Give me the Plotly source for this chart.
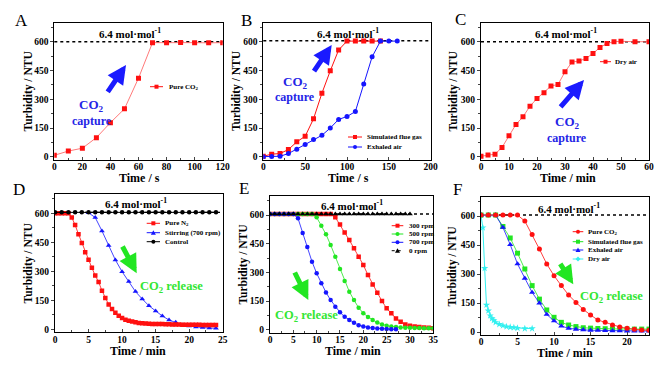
import plotly.graph_objects as go

# page body has an 8px margin: the figure is drawn from (8, 8) of the window
OFF = 8
W, H = 662 - OFF, 376 - OFF
def fx(x): return (x - OFF) / W
def fy(y): return 1 - (y - OFF) / H

# ---------------- DATA ----------------
# A: capture with pure CO2 (time in s)
A_time = [0, 10, 20, 30, 40, 50, 60, 70, 80, 90, 100, 110, 120]
A_pure_co2 = [8, 30, 45, 100, 178, 250, 410, 595, 595, 596, 595, 594, 595]

# B: capture with simulated flue gas / exhaled air (time in s)
B_time_flue = [0, 10, 20, 30, 40, 50, 60, 70, 80, 90, 100, 110, 120, 130, 140]
B_flue = [3, 14, 17, 38, 78, 107, 198, 331, 448, 557, 603, 603, 603, 603, 603]
B_time_exh = [0, 10, 20, 30, 40, 50, 60, 70, 80, 90, 100, 110, 120, 130, 140, 150, 160]
B_exh = [1, 2, 3, 17, 40, 64, 90, 112, 150, 195, 210, 236, 379, 521, 603, 603, 603]

# C: capture with dry air (time in min)
C_time = [0, 2.5, 5, 7.5, 10, 12.5, 15, 17.5, 20, 22.5, 25, 27.5, 30, 32.5, 35,
          37.5, 40, 42.5, 45, 47.5, 50, 55, 60]
C_dry = [3, 9, 14, 49, 110, 169, 209, 264, 304, 334, 369, 377, 443, 494, 499,
         513, 539, 570, 591, 600, 602, 600, 600]

# D: release (time in min)
D_time_n2 = [0, 0.5, 1, 1.5, 2, 2.5, 3, 3.5, 4, 4.5, 5, 5.5, 6, 6.5, 7, 7.5, 8, 8.5,
             9, 9.5, 10, 10.5, 11, 11.5, 12, 12.5, 13, 13.5, 14, 14.5, 15, 15.5,
             16, 16.5, 17, 17.5, 18, 18.5, 19, 19.5, 20, 20.5, 21, 21.5, 22, 22.5,
             23, 23.5, 24]
D_n2 = [600, 600, 600, 600, 600, 578, 540, 492, 447, 398, 360, 318, 278, 245, 200,
        162, 128, 105, 85, 70, 58, 50, 44, 40, 36, 33, 31, 30, 29, 28, 28, 27, 27,
        26, 26, 25, 25, 25, 24, 24, 24, 23, 23, 23, 22, 22, 22, 22, 22]
D_time_stir = [5, 6, 7, 8, 9, 10, 11, 12, 13, 14, 15, 16, 17, 18, 19, 20, 21, 22, 23, 24]
D_stir = [603, 578, 509, 433, 359, 298, 247, 195, 157, 122, 95, 69, 48, 36, 22, 17,
          12, 9, 7, 5]
D_time_ctrl = [0, 1, 2, 3, 4, 5, 6, 7, 8, 9, 10, 11, 12, 13, 14, 15, 16, 17, 18, 19,
               20, 21, 22, 23, 24]
D_ctrl = [605] * 25

# E: release at different stirring speeds (time in min)
E_time_300 = list(range(0, 36))
E_300 = [605] * 14 + [588, 551, 508, 469, 426, 382, 339, 286, 237, 194, 150, 112,
                      86, 59, 42, 28, 21, 17, 14, 12, 10, 8]
E_time_500 = list(range(0, 36))
E_500 = [605] * 10 + [588, 544, 499, 443, 382, 318, 255, 199, 155, 115, 86, 66, 51,
                      38, 28, 21, 17, 14, 12, 11, 10, 9, 9, 8, 8, 8]
E_time_700 = list(range(0, 28))
E_700 = [605] * 6 + [583, 506, 433, 356, 295, 243, 195, 155, 120, 91, 68, 51, 37,
                     24, 17, 12, 9, 7, 5, 4, 3, 3]
E_time_0 = list(range(0, 31))
E_0 = [605] * 31

# F: release for different capture gases (time in min)
F_time = list(range(0, 24))
F_pure = [605, 605, 605, 605, 605, 605, 574, 505, 429, 352, 291, 240, 191, 153, 117,
          88, 62, 50, 36, 26, 19, 14, 10, 9]
F_flue = [605, 605, 605, 546, 486, 408, 326, 240, 170, 114, 76, 50, 36, 28, 22, 20,
          18, 17, 16, 16, 15, 15, 15, 15]
F_exh = [605, 605, 605, 541, 452, 352, 278, 205, 150, 91, 57, 31, 19, 14, 11, 9, 8,
         7, 6, 6, 5, 5, 5, 5]
F_time_dry = [0, 0.25, 0.5, 0.75, 1, 1.25, 1.5, 1.75, 2, 2.5, 3, 3.5, 4, 4.5, 5, 6, 7]
F_dry = [605, 540, 330, 140, 110, 85, 70, 60, 50, 40, 33, 28, 25, 23, 20, 18, 18]

ref_levels = {"A": 600, "B": 605, "C": 600, "D": 605, "E": 605, "F": 605}
y_ticks = [0, 150, 300, 450, 600]

# ---------------- STYLE ----------------
RED, BLUE, GREEN, CYAN, BLACK = "#ff1010", "#1515ff", "#22e622", "#33f0f0", "#000000"
ARROW_BLUE, TEXT_BLUE, TEXT_GREEN = "#1a1aff", "#2424e6", "#33e633"
SERIF = "Liberation Serif"

panels = [
    dict(id="A", n=1, xd=(54.3, 222.7), yd=(22.5, 159.7), xr=[0, 120], dt=20, mdt=10,
         xt="Time / s", xtp=(139, 178), ytp=28.3, letter=(21.7, 20.7), ref=(130, 33)),
    dict(id="B", n=2, xd=(263.3, 430.7), yd=(22.5, 159.7), xr=[0, 200], dt=50, mdt=25,
         xt="Time / s", xtp=(348.3, 178), ytp=236, letter=(246.7, 20), ref=(347.5, 33.3)),
    dict(id="C", n=3, xd=(481, 649), yd=(22.5, 159.7), xr=[0, 60], dt=10, mdt=5,
         xt="Time / min", xtp=(567.5, 178), ytp=453.3, letter=(460, 19.3), ref=(566.3, 33.3)),
    dict(id="D", n=4, xd=(55, 222.7), yd=(194.0, 332.2), xr=[0, 25], dt=5, mdt=2.5,
         xt="Time / min", xtp=(138.3, 350.5), ytp=28.3, letter=(19, 189), ref=(135.8, 203.3)),
    dict(id="E", n=5, xd=(270, 433.3), yd=(195.9, 332.6), xr=[0, 35], dt=5, mdt=2.5,
         xt="Time / min", xtp=(352.5, 351), ytp=243.3, letter=(244, 188.5), ref=(351.7, 205)),
    dict(id="F", n=6, xd=(481, 649), yd=(196.7, 334.9), xr=[0, 23], dt=5, mdt=2.5,
         xt="Time / min", xtp=(565, 353), ytp=452.7, letter=(457, 189.5), ref=(569, 208.3)),
]

fig = go.Figure()
ax_of = {}
annotations, shapes = [], []

for p in panels:
    n = p["n"]
    xs = "" if n == 1 else str(n)
    ax_of[p["id"]] = ("x" + xs, "y" + xs)
    tickfont = dict(family=SERIF, size=9.5, color="black", weight="bold")
    fig.layout["xaxis" + xs] = dict(
        domain=[fx(p["xd"][0]), fx(p["xd"][1])], range=p["xr"], anchor="y" + xs,
        dtick=p["dt"], tick0=0, ticks="inside", ticklen=3, tickwidth=1,
        minor=dict(dtick=p["mdt"], ticks="inside", ticklen=2, tickwidth=1),
        ticklabelstandoff=-2,
        showline=True, linecolor="black", linewidth=1, mirror=True,
        showgrid=False, zeroline=False, tickfont=tickfont, automargin=False)
    fig.layout["yaxis" + xs] = dict(
        domain=[fy(p["yd"][1]), fy(p["yd"][0])], range=[-15, 700], anchor="x" + xs,
        tickvals=y_ticks, ticks="outside", ticklen=3, tickwidth=1,
        minor=dict(dtick=75, ticks="outside", ticklen=2, tickwidth=1),
        showline=True, linecolor="black", linewidth=1, mirror=True,
        showgrid=False, zeroline=False, tickfont=tickfont, automargin=False)
    # dotted saturation line
    shapes.append(dict(type="line", xref="x" + xs + " domain", yref="y" + xs,
                       x0=0, x1=1, y0=ref_levels[p["id"]], y1=ref_levels[p["id"]],
                       line=dict(color="black", width=1.4, dash="dot"), layer="below"))
    annotations += [
        dict(text="<b>6.4 mol·mol<sup>-1</sup></b>", x=fx(p["ref"][0]), y=fy(p["ref"][1]),
             font=dict(family=SERIF, size=11, color="black")),
        dict(text=p["id"], x=fx(p["letter"][0]), y=fy(p["letter"][1]),
             font=dict(family=SERIF, size=17, color="black")),
        dict(text="<b>" + p["xt"] + "</b>", x=fx(p["xtp"][0]), y=fy(p["xtp"][1]),
             font=dict(family=SERIF, size=12, color="black")),
        dict(text="<b>Turbidity / NTU</b>", x=fx(p["ytp"]),
             y=fy((p["yd"][0] + p["yd"][1]) / 2), textangle=-90,
             font=dict(family=SERIF, size=11.5, color="black")),
    ]

def add(pid, x, y, color, symbol, size=4.5, lw=1.0, dash="solid", lcolor=None):
    xa, ya = ax_of[pid]
    fig.add_trace(go.Scatter(
        x=x, y=y, xaxis=xa, yaxis=ya, mode="lines+markers", showlegend=False,
        line=dict(color=lcolor or color, width=lw, dash=dash),
        marker=dict(color=color, symbol=symbol, size=size, line=dict(width=0))))

add("A", A_time, A_pure_co2, RED, "square", size=5, lcolor="#ff6a6a", lw=0.9)
add("B", B_time_flue, B_flue, RED, "square", size=5)
add("B", B_time_exh, B_exh, BLUE, "circle", size=5)
add("C", C_time, C_dry, RED, "square", size=5, lcolor="#ff6a6a", lw=0.9)
add("D", D_time_stir, D_stir, BLUE, "triangle-up", size=5, lw=0.8)
add("D", D_time_n2, D_n2, RED, "square", size=4.5, lw=0.8)
add("D", D_time_ctrl, D_ctrl, BLACK, "circle", size=4.5, lw=1.0)
add("E", E_time_300, E_300, RED, "square", size=4.5, lw=0.8)
add("E", E_time_500, E_500, GREEN, "circle", size=4.5, lw=0.8)
add("E", E_time_700, E_700, BLUE, "circle", size=4.5, lw=0.8)
add("E", E_time_0, E_0, BLACK, "triangle-up", size=5, lw=0.8, dash="dash")
add("F", F_time_dry, F_dry, CYAN, "star", size=5.5, lw=1.0)
add("F", F_time, F_flue, GREEN, "square", size=5, lw=0.8)
add("F", F_time, F_exh, BLUE, "triangle-up", size=5.5, lw=0.8)
add("F", F_time, F_pure, RED, "circle", size=5, lw=0.8)

# ---------------- legends (drawn as keys + text) ----------------
def marker_shape(sym, cx, cy, color, r=2.0):
    if sym == "square":
        return dict(type="rect", xref="paper", yref="paper", x0=fx(cx - r), x1=fx(cx + r),
                    y0=fy(cy + r), y1=fy(cy - r), fillcolor=color, line=dict(width=0))
    if sym == "circle":
        return dict(type="circle", xref="paper", yref="paper", x0=fx(cx - r), x1=fx(cx + r),
                    y0=fy(cy + r), y1=fy(cy - r), fillcolor=color, line=dict(width=0))
    if sym == "triangle":
        path = "M {} {} L {} {} L {} {} Z".format(fx(cx - 2.5), fy(cy + 2), fx(cx + 2.5),
                                                  fy(cy + 2), fx(cx), fy(cy - 2.5))
        return dict(type="path", xref="paper", yref="paper", path=path,
                    fillcolor=color, line=dict(width=0))
    path = "M {} {} L {} {} L {} {} L {} {} Z".format(fx(cx - 2.5), fy(cy), fx(cx), fy(cy - 2.5),
                                                      fx(cx + 2.5), fy(cy), fx(cx), fy(cy + 2.5))
    return dict(type="path", xref="paper", yref="paper", path=path,
                fillcolor=color, line=dict(width=0))

legends = [
    (150, 163, 167, [86.7], [("Pure CO<sub>2</sub>", RED, "square", "solid")]),
    (348, 362, 364.5, [137, 147], [("Simulated flue gas", RED, "square", "solid"),
                                   ("Exhaled air", BLUE, "circle", "solid")]),
    (600, 611, 613, [61.7], [("Dry air", RED, "square", "solid")]),
    (146.7, 160, 163.3, [223.3, 232.7, 241.7], [("Pure N<sub>2</sub>", RED, "square", "solid"),
                                                ("Stirring (700 rpm)", BLUE, "triangle", "solid"),
                                                ("Control", BLACK, "circle", "solid")]),
    (391.7, 403.3, 406.7, [225.7, 234, 242.3, 250.7], [("300 rpm", RED, "square", "solid"),
                                                       ("500 rpm", GREEN, "circle", "solid"),
                                                       ("700 rpm", BLUE, "circle", "solid"),
                                                       ("0 rpm", BLACK, "triangle", "dash")]),
    (572.7, 583.3, 586, [231.7, 241.7, 250, 259], [("Pure CO<sub>2</sub>", RED, "circle", "solid"),
                                                   ("Simulated flue gas", GREEN, "square", "solid"),
                                                   ("Exhaled air", BLUE, "triangle", "solid"),
                                                   ("Dry air", CYAN, "diamond", "solid")]),
]
for x0, x1, tx, ys, items in legends:
    for yy, (label, col, sym, dash) in zip(ys, items):
        shapes.append(dict(type="line", xref="paper", yref="paper", x0=fx(x0), x1=fx(x1),
                           y0=fy(yy), y1=fy(yy), line=dict(color=col, width=1, dash="dot" if dash == "dash" else "solid")))
        shapes.append(marker_shape(sym, (x0 + x1) / 2, yy, col))
        annotations.append(dict(text="<b>" + label + "</b>", x=fx(tx), y=fy(yy), xanchor="left",
                                font=dict(family=SERIF, size=7, color="black")))

# ---------------- arrows and captions ----------------
arrows = [((126, 65), (106.7, 93.3), ARROW_BLUE), ((331.7, 45), (313, 72.7), ARROW_BLUE),
          ((584, 80), (559.3, 108.3), ARROW_BLUE), ((136.7, 273.3), (121.7, 245), GREEN),
          ((308.3, 300), (294, 271), GREEN), ((573.3, 284.3), (559.3, 262.3), GREEN)]
for (hx, hy), (tx, ty), col in arrows:
    annotations.append(dict(x=fx(hx), y=fy(hy), ax=tx - hx, ay=ty - hy, text="",
                            showarrow=True, arrowhead=2, arrowsize=0.75, arrowwidth=5,
                            arrowcolor=col))

for cx, cy1, cy2 in [(91.7, 105.5, 121), (295, 82, 97.5), (567, 122.5, 138)]:
    annotations.append(dict(text="<b>CO<sub>2</sub></b>", x=fx(cx), y=fy(cy1),
                            font=dict(family=SERIF, size=13, color=TEXT_BLUE)))
    annotations.append(dict(text="<b>capture</b>", x=fx(cx), y=fy(cy2),
                            font=dict(family=SERIF, size=12, color=TEXT_BLUE)))
for cx, cy in [(171.7, 286.7), (306.7, 316), (611.3, 296.7)]:
    annotations.append(dict(text="<b>CO<sub>2</sub> release</b>", x=fx(cx), y=fy(cy),
                            font=dict(family=SERIF, size=12.5, color=TEXT_GREEN)))

for a in annotations:
    a.setdefault("xref", "paper")
    a.setdefault("yref", "paper")
    a.setdefault("showarrow", False)
    a.setdefault("xanchor", "center")
    a.setdefault("yanchor", "middle")

fig.update_layout(width=W, height=H, margin=dict(l=0, r=0, t=0, b=0, autoexpand=False),
                  paper_bgcolor="white", plot_bgcolor="white",
                  annotations=annotations, shapes=shapes, showlegend=False)
fig.write_html("out.html")
